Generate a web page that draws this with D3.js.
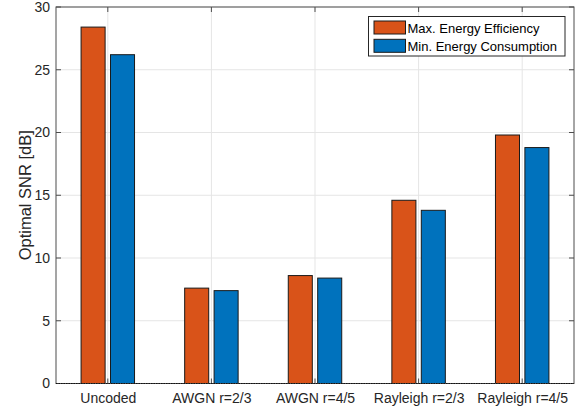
<!DOCTYPE html>
<html>
<head>
<meta charset="utf-8">
<script src="https://cdn.jsdelivr.net/npm/d3@7"></script>
<style>
  body { margin: 0; background: #fff; }
  svg { display: block; font-family: "Liberation Sans", Arial, sans-serif; }
</style>
</head>
<body>
<svg id="chart" width="582" height="410"></svg>
<script>
const categories = ['Uncoded', 'AWGN r=2/3', 'AWGN r=4/5', 'Rayleigh r=2/3', 'Rayleigh r=4/5'];
const seriesNames = ['Max. Energy Efficiency', 'Min. Energy Consumption'];
const maxEfficiency = [28.4, 7.6, 8.6, 14.6, 19.8];
const minConsumption = [26.2, 7.4, 8.4, 13.8, 18.8];
const yTicks = [0, 5, 10, 15, 20, 25, 30];

const colors = ['#D95319', '#0072BD'];
const series = [maxEfficiency, minConsumption];

const margin = { left: 56, right: 8, top: 7, bottom: 26.5 };
const width = 582, height = 410;
const svg = d3.select('#chart');

// matlab style x limits, categories sit on 1..5
const x = d3.scaleLinear()
  .domain([0.5, categories.length + 0.5])
  .range([margin.left, width - margin.right]);
const y = d3.scaleLinear()
  .domain([0, 30])
  .range([height - margin.bottom, margin.top]);

const barWidth = 0.232;
const barOffset = [-0.142, 0.142];
const axisColor = '#4d4d4d';

// grid
const grid = svg.append('g').attr('class', 'grid');
yTicks.forEach((t) => {
  grid.append('line')
    .attr('x1', x.range()[0]).attr('x2', x.range()[1])
    .attr('y1', y(t)).attr('y2', y(t))
    .attr('stroke', '#e5e5e5').attr('stroke-width', 1);
});
categories.forEach((c, i) => {
  grid.append('line')
    .attr('x1', x(i + 1)).attr('x2', x(i + 1))
    .attr('y1', y.range()[0]).attr('y2', y.range()[1])
    .attr('stroke', '#e5e5e5').attr('stroke-width', 1);
});

// bars
series.forEach((values, s) => {
  svg.append('g')
    .selectAll('rect')
    .data(values)
    .join('rect')
    .attr('x', (d, i) => x(i + 1 + barOffset[s] - barWidth / 2))
    .attr('width', x(1 + barWidth) - x(1))
    .attr('y', (d) => y(d))
    .attr('height', (d) => y(0) - y(d))
    .attr('fill', colors[s])
    .attr('stroke', '#1a1a1a')
    .attr('stroke-width', 1);
});

// axes
const tickLen = 5;
const yAxis = d3.axisLeft(y).tickValues(yTicks).tickSize(0).tickPadding(6);
const yG = svg.append('g')
  .attr('transform', `translate(${margin.left},0)`)
  .call(yAxis);
yG.select('.domain').remove();
yG.selectAll('text')
  .attr('font-size', 14)
  .attr('font-family', '"Liberation Sans", Arial, sans-serif')
  .attr('fill', '#262626');

const xAxis = d3.axisBottom(x)
  .tickValues(d3.range(1, categories.length + 1))
  .tickFormat((d) => categories[d - 1])
  .tickSize(0).tickPadding(10);
const xG = svg.append('g')
  .attr('transform', `translate(0,${y(0)})`)
  .call(xAxis);
xG.select('.domain').remove();
xG.selectAll('text')
  .attr('font-size', 14)
  .attr('font-family', '"Liberation Sans", Arial, sans-serif')
  .attr('fill', '#262626');

// inward ticks on all four sides
const ticks = svg.append('g').attr('stroke', axisColor).attr('stroke-width', 1);
yTicks.forEach((t) => {
  ticks.append('line').attr('x1', x.range()[0]).attr('x2', x.range()[0] + tickLen)
    .attr('y1', y(t)).attr('y2', y(t));
  ticks.append('line').attr('x1', x.range()[1]).attr('x2', x.range()[1] - tickLen)
    .attr('y1', y(t)).attr('y2', y(t));
});
categories.forEach((c, i) => {
  ticks.append('line').attr('x1', x(i + 1)).attr('x2', x(i + 1))
    .attr('y1', y(0)).attr('y2', y(0) - tickLen);
  ticks.append('line').attr('x1', x(i + 1)).attr('x2', x(i + 1))
    .attr('y1', y(30)).attr('y2', y(30) + tickLen);
});

// box
svg.append('rect')
  .attr('x', x.range()[0]).attr('y', y(30))
  .attr('width', x.range()[1] - x.range()[0])
  .attr('height', y(0) - y(30))
  .attr('fill', 'none').attr('stroke', axisColor).attr('stroke-width', 1);

// baseline of bars over the bottom axis
svg.append('line')
  .attr('x1', x.range()[0]).attr('x2', x.range()[1])
  .attr('y1', y(0)).attr('y2', y(0))
  .attr('stroke', '#111').attr('stroke-width', 1.2)
  .attr('stroke-dasharray', '1.5,1');

// y label
svg.append('text')
  .attr('transform', `translate(31,${(y(0) + y(30)) / 2}) rotate(-90)`)
  .attr('text-anchor', 'middle')
  .attr('font-size', 16.5)
  .attr('fill', '#262626')
  .text('Optimal SNR [dB]');

// legend
const legend = svg.append('g').attr('transform', 'translate(368.5,16.5)');
legend.append('rect')
  .attr('width', 196.5).attr('height', 39.5)
  .attr('fill', '#fff').attr('stroke', '#262626').attr('stroke-width', 1);
seriesNames.forEach((name, i) => {
  const row = legend.append('g').attr('transform', `translate(5.5,${4.5 + i * 18.3})`);
  row.append('rect')
    .attr('width', 31.5).attr('height', 13)
    .attr('fill', colors[i]).attr('stroke', '#1a1a1a').attr('stroke-width', 1);
  row.append('text')
    .attr('x', 33.5).attr('y', 11.5)
    .attr('font-size', 13)
    .attr('fill', '#000')
    .text(name);
});
</script>
</body>
</html>
